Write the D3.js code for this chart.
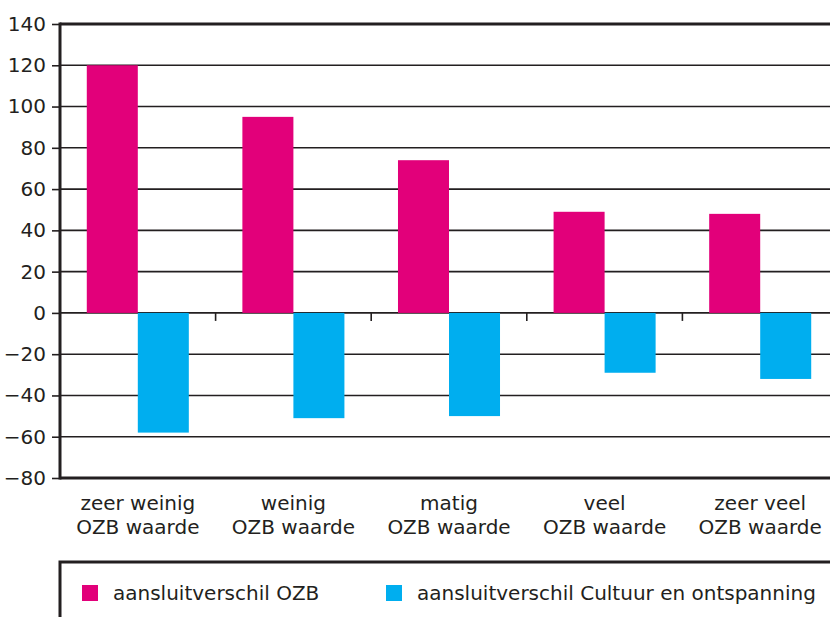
<!DOCTYPE html>
<html>
<head>
<meta charset="utf-8">
<script src="https://cdn.jsdelivr.net/npm/d3@7"></script>
<style>
  body { margin: 0; background: #fff; }
  text { font-family: "DejaVu Sans", sans-serif; fill: #231f20; }
</style>
</head>
<body>
<svg id="chart" width="830" height="617"></svg>
<script>
// data
const categories = [
    ["zeer weinig", "OZB waarde"],
    ["weinig", "OZB waarde"],
    ["matig", "OZB waarde"],
    ["veel", "OZB waarde"],
    ["zeer veel", "OZB waarde"],
]
const seriesNames = ["aansluitverschil OZB", "aansluitverschil Cultuur en ontspanning"]
const ozbValues = [120, 95, 74, 49, 48]
const cultuurValues = [-58, -51, -50, -29, -32]
const yTicks = [140, 120, 100, 80, 60, 40, 20, 0, -20, -40, -60, -80]

const colors = ["#e2007a", "#00aeef"]
const ink = "#231f20"
const fontSize = 20

const margin = { left: 60, top: 24, right: 838, bottom: 478 }

const svg = d3.select("#chart")

const x = d3.scaleBand()
    .domain(d3.range(categories.length))
    .range([margin.left, margin.right])

const inner = d3.scaleBand()
    .domain([0, 1])
    .range([0, x.bandwidth()])
    .paddingOuter(0.525)

const y = d3.scaleLinear()
    .domain([-80, 140])
    .range([margin.bottom, margin.top])

// gridlines
svg.append("g")
    .selectAll("line")
    .data(yTicks)
    .enter().append("line")
    .attr("x1", margin.left)
    .attr("x2", 830)
    .attr("y1", d => y(d))
    .attr("y2", d => y(d))
    .attr("stroke", ink)
    .attr("stroke-width", d => (d === 140 || d === -80) ? 3 : 1.6)

// bars
const rows = categories.map((c, i) => [ozbValues[i], cultuurValues[i]])

svg.append("g")
    .selectAll("g")
    .data(rows)
    .enter().append("g")
    .attr("transform", (_, i) => `translate(${x(i)},0)`)
    .selectAll("rect")
    .data(d => d)
    .enter().append("rect")
    .attr("x", (_, j) => inner(j))
    .attr("width", inner.bandwidth())
    .attr("y", d => y(Math.max(0, d)))
    .attr("height", d => Math.abs(y(d) - y(0)))
    .attr("fill", (_, j) => colors[j])

// category ticks on the zero line
svg.append("g")
    .selectAll("line")
    .data(d3.range(1, categories.length))
    .enter().append("line")
    .attr("x1", i => x(i))
    .attr("x2", i => x(i))
    .attr("y1", y(0))
    .attr("y2", y(0) + 8)
    .attr("stroke", ink)
    .attr("stroke-width", 1.6)

// y axis
const yAxis = d3.axisLeft(y)
    .tickValues(yTicks)
    .tickSize(8)
    .tickPadding(6)
    .tickFormat(d => d < 0 ? "\u2212" + Math.abs(d) : d)

const yg = svg.append("g")
    .attr("transform", `translate(${margin.left},0)`)
    .call(yAxis)
yg.attr("font-family", null).attr("font-size", null)
yg.select(".domain").remove()
yg.selectAll(".tick line").attr("stroke", ink).attr("stroke-width", 1.6)
yg.selectAll(".tick text")
    .attr("font-size", fontSize)
    .attr("fill", ink)

svg.append("line")
    .attr("x1", margin.left)
    .attr("x2", margin.left)
    .attr("y1", margin.top - 1.5)
    .attr("y2", margin.bottom + 1.5)
    .attr("stroke", ink)
    .attr("stroke-width", 3)

// category labels
const labels = svg.append("g")
    .selectAll("text")
    .data(categories)
    .enter().append("text")
    .attr("text-anchor", "middle")
    .attr("font-size", fontSize)
    .attr("transform", (_, i) => `translate(${x(i) + x.bandwidth() / 2},0)`)

labels.selectAll("tspan")
    .data(d => d)
    .enter().append("tspan")
    .attr("x", 0)
    .attr("y", (_, k) => 510 + k * 23.5)
    .text(d => d)

// legend box
svg.append("path")
    .attr("d", `M${margin.left},617 V562 H830`)
    .attr("fill", "none")
    .attr("stroke", ink)
    .attr("stroke-width", 3)

const legendX = [82, 386]
const legend = svg.append("g")
    .selectAll("g")
    .data(seriesNames)
    .enter().append("g")
    .attr("transform", (_, i) => `translate(${legendX[i]},585)`)

legend.append("rect")
    .attr("width", 16)
    .attr("height", 16)
    .attr("fill", (_, i) => colors[i])

legend.append("text")
    .attr("x", 31)
    .attr("y", 15)
    .attr("font-size", fontSize)
    .text(d => d)
</script>
</body>
</html>
